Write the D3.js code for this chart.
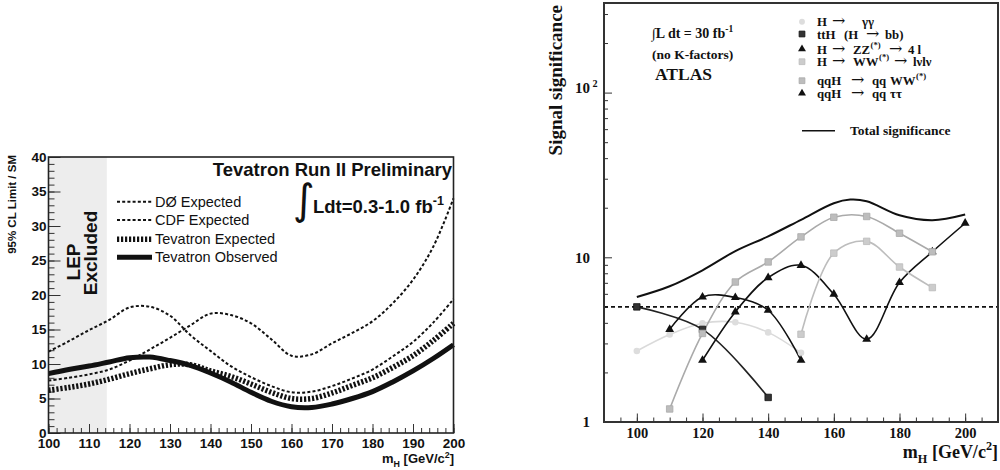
<!DOCTYPE html>
<html><head><meta charset="utf-8">
<script src="https://cdn.jsdelivr.net/npm/d3@7"></script>
<style>
body{margin:0;background:#fff;}
svg{display:block;}
text{white-space:pre;}
</style></head><body>
<svg id="c" width="1000" height="470"></svg>
<script>
// ===== Left panel data (Tevatron 95% CL limit / SM) =====
const massL = [100,105,110,115,120,125,130,135,140,145,150,155,160,165,170,175,180,185,190,195,200];
const d0Expected  = [11.8,13.3,14.9,16.4,18.2,18.3,17.0,14.2,11.9,9.7,8.1,6.8,5.9,6.0,6.8,7.9,9.2,11.1,13.2,16.0,19.4];
const cdfExpected = [7.6,8.0,8.5,9.2,10.5,12.1,13.8,15.6,17.3,17.1,15.9,13.6,11.2,11.4,13.0,14.5,16.2,18.8,22.2,27.0,34.0];
const tevExpected = [6.2,6.6,7.1,7.8,8.6,9.3,9.9,9.9,9.0,8.2,7.1,5.9,5.0,5.0,5.8,6.9,8.0,9.5,11.2,13.4,15.9];
const tevObserved = [8.6,9.2,9.7,10.3,10.9,11.0,10.5,9.8,8.7,7.4,5.9,4.6,3.8,3.7,4.2,5.0,6.0,7.4,9.0,10.8,12.8];
const lepLimit = 114.4;
const yTicksL = [0,5,10,15,20,25,30,35,40];
const xTicksL = [100,110,120,130,140,150,160,170,180,190,200];
const legendL = ["DØ Expected","CDF Expected","Tevatron Expected","Tevatron Observed"];

// ===== Right panel data (ATLAS signal significance) =====
const massGG  = [100,110,120,130,140,150];
const sigGG   = [2.70,3.40,3.98,4.03,3.50,2.63];
const massTTH = [100,120,140];
const sigTTH  = [5.0,3.65,1.41];
const massZZ  = [120,130,140,150,160,170,180,190,200];
const sigZZ   = [2.37,4.66,7.53,8.94,5.97,3.18,7.03,10.8,16.1];
const massWW  = [150,160,170,180,190];
const sigWW   = [3.41,10.6,12.5,8.73,6.55];
const massQQWW = [110,120,130,140,150,160,170,180,190];
const sigQQWW  = [1.20,3.45,7.08,9.37,13.3,17.5,17.7,14.0,10.8];
const massTT  = [110,120,130,140,150];
const sigTT   = [3.65,5.74,5.70,4.77,2.37];
const massTot = [100,110,120,130,140,150,160,165,170,180,190,200];
const sigTot  = [5.74,6.67,8.34,10.9,13.4,16.9,21.3,22.4,21.9,18.0,16.8,18.2];
const discovery = 5;
const xTicksR = [100,120,140,160,180,200];
const yTicksR = [1,10,100];

const svg = d3.select("#c");
const SANS = "'Liberation Sans', Arial, sans-serif";
const SERIF = "'Liberation Serif', 'Times New Roman', serif";

function rich(sel, parts, fs) {
  let shift = 0;
  parts.forEach(p => {
    const [t, m] = typeof p === "string" ? [p, ""] : p;
    const target = m === "sup" ? -fs*0.42 : (m === "sub" ? fs*0.28 : 0);
    sel.append("tspan").attr("dy", (target - shift).toFixed(2))
      .attr("font-size", m ? fs*0.68 : fs).text(t);
    shift = target;
  });
  return sel;
}

// ================= LEFT PANEL =================
const xL = d3.scaleLinear().domain([100,200]).range([48.5,453.5]);
const yL = d3.scaleLinear().domain([0,40]).range([433,157]);
const gL = svg.append("g");

gL.append("rect").attr("x", xL(100)).attr("y", yL(40))
  .attr("width", xL(lepLimit)-xL(100)).attr("height", yL(0)-yL(40))
  .attr("fill", "#ededed");

// minor ticks
gL.append("g").attr("transform", `translate(${xL(100)},0)`)
  .call(d3.axisLeft(yL).tickValues(d3.range(0,41,1)).tickSize(-6).tickFormat(""))
  .call(g => g.select(".domain").remove());
gL.append("g").attr("transform", `translate(0,${yL(0)})`)
  .call(d3.axisBottom(xL).tickValues(d3.range(100,201,2)).tickSize(-5).tickFormat(""))
  .call(g => g.select(".domain").remove());
// major ticks
gL.append("g").attr("transform", `translate(${xL(100)},0)`)
  .call(d3.axisLeft(yL).tickValues(yTicksL).tickSizeInner(-12).tickSizeOuter(0).tickPadding(2))
  .call(g => g.select(".domain").remove())
  .call(g => g.selectAll("text").attr("font-family", SANS).attr("font-weight","bold").attr("font-size", 13.5).attr("fill","#111"));
gL.append("g").attr("transform", `translate(0,${yL(0)})`)
  .call(d3.axisBottom(xL).tickValues(xTicksL).tickSizeInner(-9).tickSizeOuter(0).tickPadding(5))
  .call(g => g.select(".domain").remove())
  .call(g => g.selectAll("text").attr("font-family", SANS).attr("font-weight","bold").attr("font-size", 13.5).attr("fill","#111"));
gL.selectAll(".tick line").attr("stroke", "#333");

// curves
const lineL = d3.line().x((d,i) => xL(massL[i])).y(d => yL(d)).curve(d3.curveCatmullRom);
const stylesL = [
  {data: d0Expected, w: 2, dash: "3,2.2"},
  {data: cdfExpected, w: 2, dash: "3,2.2"},
  {data: tevExpected, w: 5.5, dash: "2.2,1.8"},
  {data: tevObserved, w: 5, dash: null}
];
stylesL.forEach(s => {
  gL.append("path").attr("d", lineL(s.data)).attr("fill","none").attr("stroke","#111")
    .attr("stroke-width", s.w).attr("stroke-dasharray", s.dash);
});

// frame
gL.append("rect").attr("x", xL(100)).attr("y", yL(40))
  .attr("width", xL(200)-xL(100)).attr("height", yL(0)-yL(40))
  .attr("fill","none").attr("stroke","#222").attr("stroke-width",1.6);

// legend
const legRowsL = [201.7, 220, 239.3, 257.3];
stylesL.forEach((s,i) => {
  gL.append("line").attr("x1",117).attr("x2",152).attr("y1",legRowsL[i]).attr("y2",legRowsL[i])
    .attr("stroke","#111").attr("stroke-width", s.w).attr("stroke-dasharray", s.dash);
  gL.append("text").attr("x",155).attr("y",legRowsL[i]+5).attr("font-family",SANS)
    .attr("font-size",14.5).attr("fill","#111").text(legendL[i]);
});

// texts
gL.append("text").attr("x",452).attr("y",176).attr("text-anchor","end")
  .attr("font-family",SANS).attr("font-weight","bold").attr("font-size",18.5).attr("fill","#111")
  .text("Tevatron Run II Preliminary");
gL.append("text").attr("x",293).attr("y",214).attr("font-family","'DejaVu Sans', sans-serif")
  .attr("font-size",42).attr("fill","#111").text("∫");
rich(gL.append("text").attr("x",313).attr("y",213).attr("font-family",SANS).attr("font-weight","bold")
  .attr("fill","#111"), ["Ldt=0.3-1.0 fb", ["-1","sup"]], 18.5);
gL.append("text").attr("transform","translate(80,262) rotate(-90)").attr("text-anchor","middle")
  .attr("font-family",SANS).attr("font-weight","bold").attr("font-size",19).attr("fill","#111").text("LEP");
gL.append("text").attr("transform","translate(97,253) rotate(-90)").attr("text-anchor","middle")
  .attr("font-family",SANS).attr("font-weight","bold").attr("font-size",19).attr("fill","#111").text("Excluded");
gL.append("text").attr("transform","translate(16,155) rotate(-90)").attr("text-anchor","end")
  .attr("font-family",SANS).attr("font-weight","bold").attr("font-size",11.5).attr("fill","#111")
  .text("95% CL Limit / SM");
rich(gL.append("text").attr("x",454).attr("y",463).attr("text-anchor","end").attr("font-family",SANS)
  .attr("font-weight","bold").attr("fill","#111"), ["m", ["H","sub"], " [GeV/c", ["2","sup"], "]"], 13);

// ================= RIGHT PANEL =================
const xR = d3.scaleLinear().domain([90,210]).range([604,998]);
const yR = d3.scaleLog().domain([1,350]).range([422,3]);
const gR = svg.append("g");

// minor ticks
const minorY = [2,3,4,5,6,7,8,9,20,30,40,50,60,70,80,90,200,300];
gR.append("g").attr("transform", `translate(${xR(90)},0)`)
  .call(d3.axisLeft(yR).tickValues(minorY).tickSize(-4).tickFormat(""))
  .call(g => g.select(".domain").remove());
gR.append("g").attr("transform", `translate(0,${yR(1)})`)
  .call(d3.axisBottom(xR).tickValues(d3.range(90,211,5)).tickSize(-4.5).tickFormat(""))
  .call(g => g.select(".domain").remove());
// major
gR.append("g").attr("transform", `translate(${xR(90)},0)`)
  .call(d3.axisLeft(yR).tickValues(yTicksR).tickSizeInner(-8).tickSizeOuter(0).tickPadding(14).tickFormat(d => d === 100 ? "" : String(d)))
  .call(g => g.select(".domain").remove())
  .call(g => g.selectAll("text").attr("font-family", SERIF).attr("font-weight","bold").attr("font-size", 15).attr("fill","#111"))
  .call(g => g.selectAll(".tick").filter(d => d === 100).select("text")
      .attr("text-anchor","start").attr("x",-29)
      .call(t => rich(t, ["10", [" 2","sup"]], 15)));
gR.append("g").attr("transform", `translate(0,${yR(1)})`)
  .call(d3.axisBottom(xR).tickValues(xTicksR).tickSizeInner(-8.5).tickSizeOuter(0).tickPadding(6))
  .call(g => g.select(".domain").remove())
  .call(g => g.selectAll("text").attr("font-family", SERIF).attr("font-weight","bold").attr("font-size", 14.5).attr("fill","#111"));
gR.selectAll(".tick line").attr("stroke","#333");

// discovery line
gR.append("line").attr("x1", xR(90)).attr("x2", xR(210)).attr("y1", yR(discovery)).attr("y2", yR(discovery))
  .attr("stroke","#111").attr("stroke-width",1.6).attr("stroke-dasharray","4,3");

const lineR = (xs) => d3.line().x((d,i) => xR(xs[i])).y(d => yR(d)).curve(d3.curveCatmullRom);
const seriesR = [
  {m: massGG, v: sigGG, line: "#dadada", sym: d3.symbolCircle, size: 34, fill: "#dddddd"},
  {m: massTTH, v: sigTTH, line: "#222", sym: d3.symbolSquare, size: 42, fill: "#333", stroke: "#111"},
  {m: massZZ, v: sigZZ, line: "#111", sym: d3.symbolTriangle, size: 34, fill: "#111"},
  {m: massWW, v: sigWW, line: "#bdbdbd", sym: d3.symbolSquare, size: 42, fill: "#cccccc", stroke: "#bbbbbb"},
  {m: massQQWW, v: sigQQWW, line: "#aaaaaa", sym: d3.symbolSquare, size: 42, fill: "#bdbdbd", stroke: "#aaaaaa"},
  {m: massTT, v: sigTT, line: "#111", sym: d3.symbolTriangle, size: 34, fill: "#111"}
];
seriesR.forEach(s => {
  gR.append("path").attr("d", lineR(s.m)(s.v)).attr("fill","none").attr("stroke", s.line).attr("stroke-width",1.6);
});
seriesR.forEach(s => {
  gR.selectAll(null).data(s.v).enter().append("path")
    .attr("transform", (d,i) => `translate(${xR(s.m[i])},${yR(d)})`)
    .attr("d", d3.symbol().type(s.sym).size(s.size)())
    .attr("fill", s.fill).attr("stroke", s.stroke || "none").attr("stroke-width", 0.8);
});
gR.append("path").attr("d", lineR(massTot)(sigTot)).attr("fill","none").attr("stroke","#111").attr("stroke-width",2);

// frame
gR.append("rect").attr("x", xR(90)).attr("y", yR(350)).attr("width", xR(210)-xR(90)).attr("height", yR(1)-yR(350))
  .attr("fill","none").attr("stroke","#333").attr("stroke-width",2);

// legend (each piece: text, mode, offset from the legend text column; null = follows previous piece)
const legTextR = [
  [["H","",0],["→","arr",15],["γγ","",45]],
  [["ttH","",0],["(H","",27],["→","arr",49],["bb)","",68]],
  [["H","",0],["→","arr",15],["ZZ","",36],["(*)","sup",null],["→","arr",72],["4 l","",91]],
  [["H","",0],["→","arr",15],["WW","",36],["(*)","sup",null],["→","arr",77],["lνlν","",96]],
  [["qqH","",0],["→","arr",34],["qq","",55],["WW","",73],["(*)","sup",null]],
  [["qqH","",0],["→","arr",34],["qq","",55],["ττ","",73]]
];
const legRowsR = [21.7, 34, 49, 61.7, 80.7, 93.3];
const legFS = 12.8;
seriesR.forEach((s,i) => {
  gR.append("path").attr("transform", `translate(802,${legRowsR[i]})`)
    .attr("d", d3.symbol().type(s.sym).size(s.size*0.8)())
    .attr("fill", s.fill).attr("stroke", s.stroke || "none").attr("stroke-width",0.8);
  const t = gR.append("text").attr("y",legRowsR[i]+4.5).attr("font-family",SERIF)
    .attr("font-weight","bold").attr("fill","#111");
  legTextR[i].forEach(([txt, m, off]) => {
    const sp = t.append("tspan").text(txt)
      .attr("y", legRowsR[i] + 4.5 + (m === "sup" ? -legFS*0.45 : 0))
      .attr("font-size", m === "sup" ? legFS*0.68 : (m === "arr" ? 16 : legFS));
    if (off !== null) sp.attr("x", 817 + off);
    else sp.attr("dx", 0.5);
    if (m === "arr") sp.attr("font-family", "'DejaVu Serif', serif").attr("font-weight","normal");
  });
});
gR.append("line").attr("x1",802).attr("x2",835).attr("y1",130.7).attr("y2",130.7).attr("stroke","#111").attr("stroke-width",1.6);
gR.append("text").attr("x",850).attr("y",135).attr("font-family",SERIF).attr("font-weight","bold")
  .attr("font-size",13.5).attr("fill","#111").text("Total significance");

// info text
rich(gR.append("text").attr("x",652).attr("y",38).attr("font-family",SERIF).attr("font-weight","bold").attr("fill","#111"),
  ["∫L dt = 30 fb", ["-1","sup"]], 14);
gR.append("text").attr("x",652).attr("y",59).attr("font-family",SERIF).attr("font-weight","bold")
  .attr("font-size",13.5).attr("fill","#111").text("(no K-factors)");
gR.append("text").attr("x",655).attr("y",80).attr("font-family",SERIF).attr("font-weight","bold")
  .attr("font-size",17.5).attr("fill","#111").text("ATLAS");

// axis titles
gR.append("text").attr("transform","translate(562,5) rotate(-90)").attr("text-anchor","end")
  .attr("font-family",SERIF).attr("font-weight","bold").attr("font-size",19).attr("fill","#111")
  .text("Signal significance");
rich(gR.append("text").attr("x",998).attr("y",458).attr("text-anchor","end").attr("font-family",SERIF)
  .attr("font-weight","bold").attr("fill","#111"), ["m", ["H","sub"], " [GeV/c", ["2","sup"], "]"], 18);
</script>
</body></html>
